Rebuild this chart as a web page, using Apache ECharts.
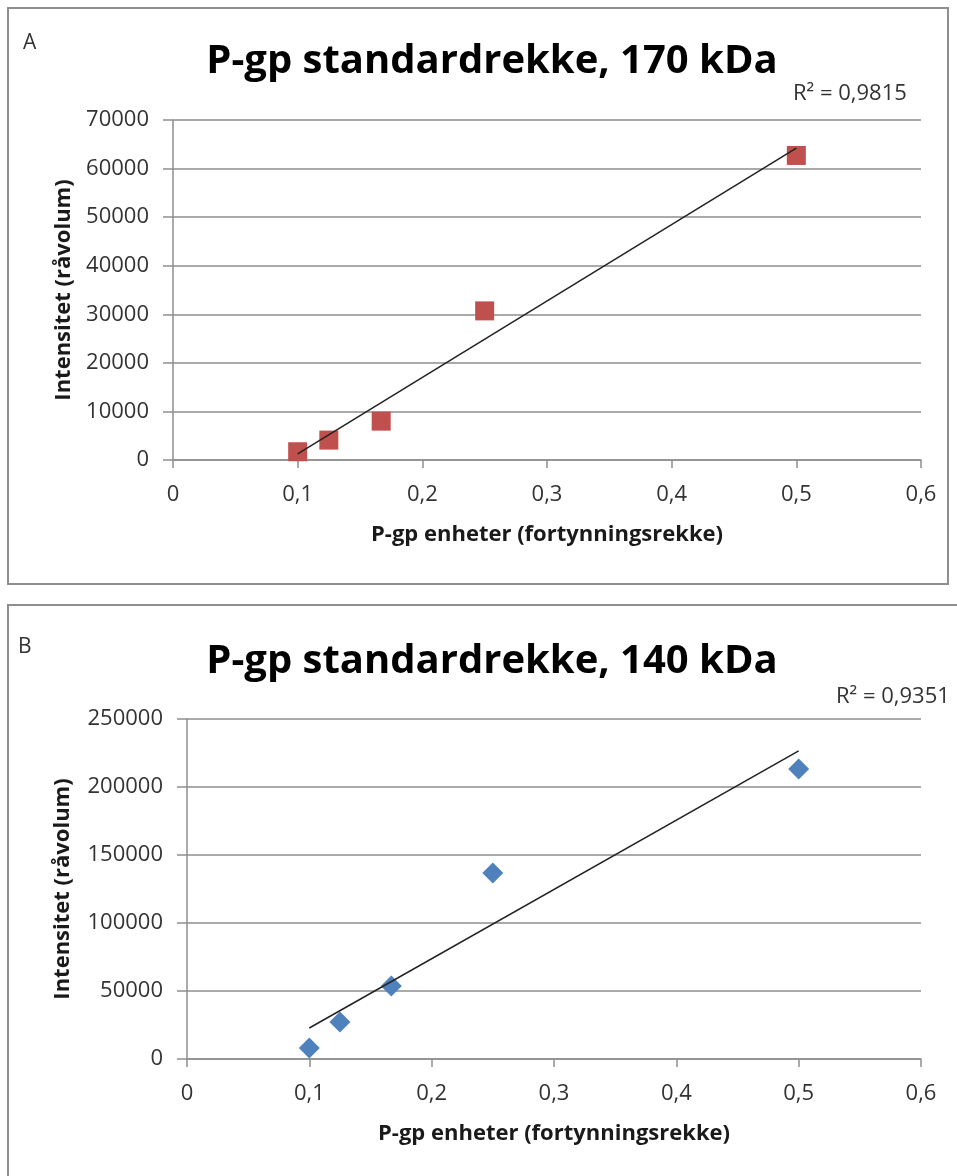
<!DOCTYPE html>
<html>
<head>
<meta charset="utf-8">
<script src="https://cdn.jsdelivr.net/npm/echarts@6/dist/echarts.min.js"></script>
<style>
  html, body { margin: 0; padding: 0; background: #fff; }
  #main { width: 957px; height: 1176px; }
</style>
</head>
<body>
<div id="main"></div>
<script>
// P-gp enheter (fortynningsrekke)
const units = [0.1, 0.125, 0.167, 0.25, 0.5]
// Intensitet (råvolum), 170 kDa
const int170 = [1700, 4100, 8000, 30700, 62700]
// Intensitet (råvolum), 140 kDa
const int140 = [8000, 27200, 53700, 136800, 213200]
// lineær trendlinje, endepunkter lest av figuren
const trend170 = [[0.1, 1240], [0.5, 64200]]
const trend140 = [[0.1, 22800], [0.5, 226500]]
const r2 = ['R² = 0,9815', 'R² = 0,9351']
const titles = ['P-gp standardrekke, 170 kDa', 'P-gp standardrekke, 140 kDa']
const xName = 'P-gp enheter (fortynningsrekke)'
const yName = 'Intensitet (råvolum)'

const FONT = 'Open Sans'
const GRAY = '#8e8e8e'

function pairs(xs, ys) {
  return xs.map((x, i) => [x, ys[i]])
}

function xAxisOf(gridIndex) {
  return {
    type: 'value', gridIndex: gridIndex,
    min: 0, max: 0.6, interval: 0.1,
    name: xName, nameLocation: 'middle', nameGap: 64,
    nameTextStyle: { fontFamily: FONT, fontWeight: 'bold', fontSize: 22, color: '#1a1a1a' },
    axisLine: { lineStyle: { color: GRAY, width: 1.5 } },
    axisTick: { show: true, length: 8, lineStyle: { color: GRAY, width: 1.5 } },
    axisLabel: {
      margin: 24, fontFamily: FONT, fontSize: 22, color: '#333',
      formatter: v => String(+v.toFixed(1)).replace('.', ',')
    },
    splitLine: { show: false }
  }
}

function yAxisOf(gridIndex, max, interval, gap) {
  return {
    type: 'value', gridIndex: gridIndex,
    min: 0, max: max, interval: interval,
    name: yName, nameLocation: 'middle', nameGap: gap,
    nameTextStyle: { fontFamily: FONT, fontWeight: 'bold', fontSize: 22, color: '#1a1a1a' },
    axisLine: { show: true, lineStyle: { color: GRAY, width: 1.5 } },
    axisTick: { show: true, length: 10, lineStyle: { color: GRAY, width: 1.5 } },
    axisLabel: { margin: 24, fontFamily: FONT, fontSize: 22, color: '#333', formatter: v => String(v) },
    splitLine: { show: true, lineStyle: { color: GRAY, width: 1.5 } }
  }
}

const chart = echarts.init(document.getElementById('main'))

chart.setOption({
  animation: false,
  title: [
    { text: titles[0], left: 487, top: 37, textAlign: 'center',
      textStyle: { fontFamily: FONT, fontWeight: 'bold', fontSize: 40, color: '#000' } },
    { text: titles[1], left: 487, top: 637, textAlign: 'center',
      textStyle: { fontFamily: FONT, fontWeight: 'bold', fontSize: 40, color: '#000' } }
  ],
  graphic: [
    { type: 'rect', shape: { x: 8, y: 8, width: 940, height: 576 },
      style: { fill: 'none', stroke: GRAY, lineWidth: 2 }, z: -1 },
    { type: 'rect', shape: { x: 8, y: 605, width: 980, height: 620 },
      style: { fill: 'none', stroke: GRAY, lineWidth: 2 }, z: -1 },
    { type: 'text', left: 23, top: 33,
      style: { text: 'A', fontFamily: FONT, fontSize: 21, fill: '#333' } },
    { type: 'text', left: 18, top: 637,
      style: { text: 'B', fontFamily: FONT, fontSize: 21, fill: '#333' } },
    { type: 'text', left: 793, top: 83,
      style: { text: r2[0], fontFamily: FONT, fontSize: 22, fill: '#333' } },
    { type: 'text', left: 836, top: 686,
      style: { text: r2[1], fontFamily: FONT, fontSize: 22, fill: '#333' } }
  ],
  grid: [
    { left: 173, top: 120, width: 748, height: 340 },
    { left: 187, top: 719, width: 734, height: 340 }
  ],
  xAxis: [xAxisOf(0), xAxisOf(1)],
  yAxis: [
    yAxisOf(0, 70000, 10000, 97),
    yAxisOf(1, 250000, 50000, 113)
  ],
  series: [
    {
      type: 'scatter', xAxisIndex: 0, yAxisIndex: 0,
      symbol: 'rect', symbolSize: 19,
      itemStyle: { color: '#C0504D', opacity: 1 },
      data: pairs(units, int170), z: 3
    },
    {
      type: 'line', xAxisIndex: 0, yAxisIndex: 0,
      symbol: 'none', silent: true,
      lineStyle: { color: '#222', width: 1.5 },
      data: trend170, z: 4
    },
    {
      type: 'scatter', xAxisIndex: 1, yAxisIndex: 1,
      symbol: 'diamond', symbolSize: 21,
      itemStyle: { color: '#4F81BD', opacity: 1 },
      data: pairs(units, int140), z: 3
    },
    {
      type: 'line', xAxisIndex: 1, yAxisIndex: 1,
      symbol: 'none', silent: true,
      lineStyle: { color: '#222', width: 1.5 },
      data: trend140, z: 4
    }
  ]
})
</script>
</body>
</html>
